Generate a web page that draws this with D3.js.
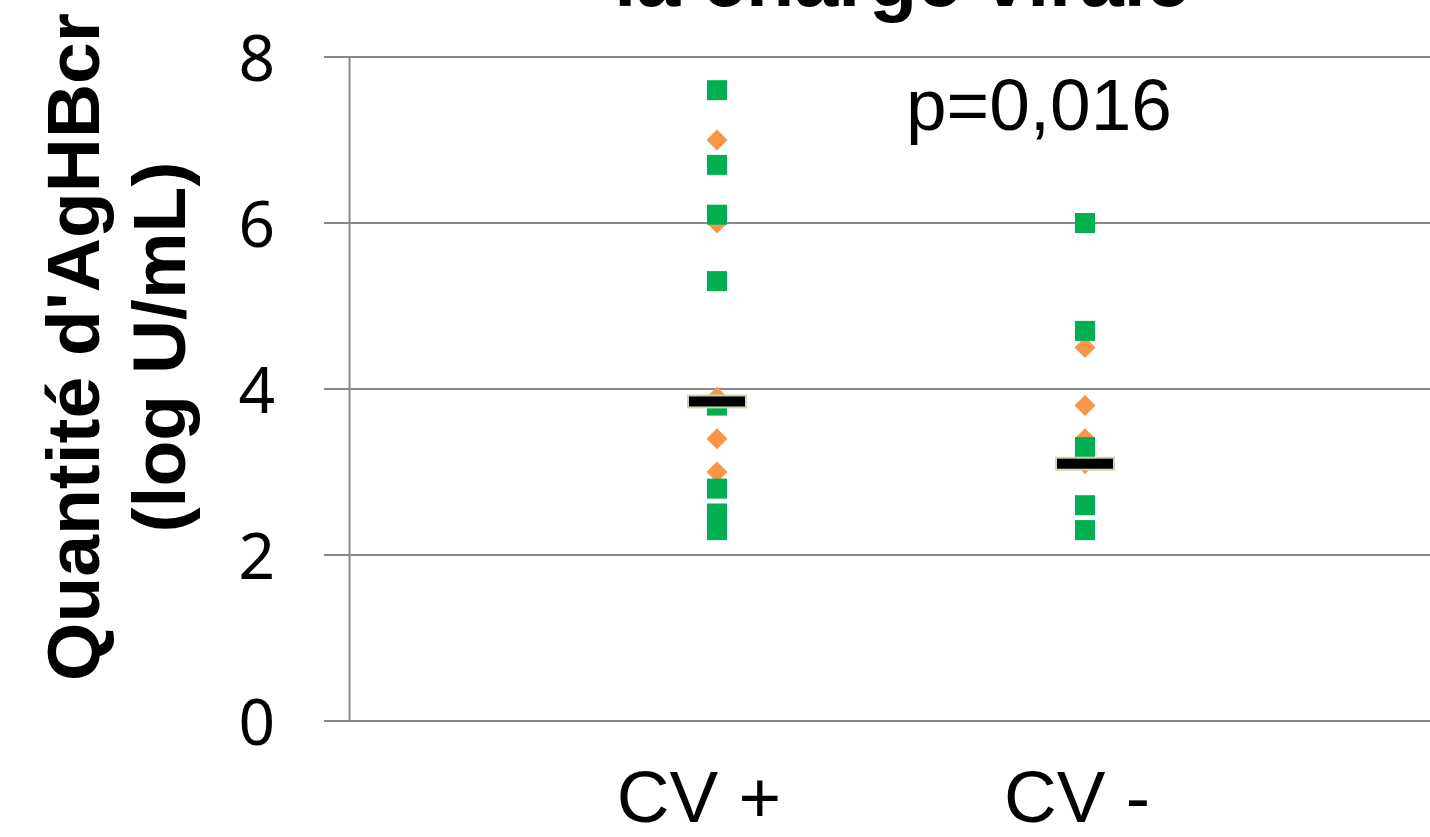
<!DOCTYPE html>
<html>
<head>
<meta charset="utf-8">
<script src="https://cdn.jsdelivr.net/npm/d3@7"></script>
<style>
	body { margin: 0; background: #fff; }
	text { font-family: "Liberation Sans", Arial, sans-serif; }
</style>
</head>
<body>
<svg id="chart" width="1430" height="837"></svg>
<script>
// categories and values (log U/mL)
var categories = ["CV + ", "CV -"];
var squaresCVpos = [7.6, 6.7, 6.1, 5.3, 3.8, 2.8, 2.5, 2.4, 2.3];
var diamondsCVpos = [7.0, 6.0, 3.9, 3.4, 3.0];
var squaresCVneg = [6.0, 4.7, 3.3, 2.6, 2.3];
var diamondsCVneg = [4.5, 3.8, 3.4, 3.1, 2.3];
var medians = [3.85, 3.1];
var yTicks = [0, 2, 4, 6, 8];
var pText = "p=0,016";

var svg = d3.select("#chart");
var gridColor = "#898989";

// x: category index 1..2, axis at 0
var x = d3.scaleLinear().domain([0, 3]).range([349, 1453]);
var y = d3.scaleLinear().domain([0, 8]).range([721, 57]);

// gridlines
svg.append("g")
	.selectAll("line").data(yTicks).join("line")
	.attr("x1", 324).attr("x2", 1430)
	.attr("y1", function (d) { return y(d); }).attr("y2", function (d) { return y(d); })
	.attr("stroke", gridColor).attr("stroke-width", 2);

// y axis line + labels
var yAxis = d3.axisLeft(y).tickValues(yTicks).tickSize(0).tickPadding(0);
var axG = svg.append("g").attr("transform", "translate(" + x(0) + ",0)").call(yAxis);
axG.select(".domain").attr("stroke", gridColor).attr("stroke-width", 2);
axG.selectAll(".tick text")
	.attr("x", -74)
	.attr("dy", "0.36em")
	.style("font-size", "64px")
	.style("font-family", "'Noto Sans', 'Open Sans', sans-serif")
	.attr("fill", "#000");

// category labels
svg.append("g")
	.selectAll("text").data(categories).join("text")
	.attr("x", function (d, i) { return x(i + 1) - 8; })
	.attr("y", 822)
	.attr("text-anchor", "middle")
	.style("white-space", "pre")
	.style("font-size", "73px")
	.text(function (d) { return d; });

// points
var sq = 20, dia = 10.5;
function drawGroup(idx, sqVals, diaVals) {
	var g = svg.append("g");
	g.selectAll("path.dia").data(diaVals).join("path")
		.attr("class", "dia")
		.attr("d", "M0," + (-dia) + "L" + dia + ",0L0," + dia + "L" + (-dia) + ",0Z")
		.attr("transform", function (d) { return "translate(" + x(idx) + "," + y(d) + ")"; })
		.attr("fill", "#F79646");
	g.selectAll("rect.sq").data(sqVals).join("rect")
		.attr("class", "sq")
		.attr("x", x(idx) - sq / 2)
		.attr("y", function (d) { return y(d) - sq / 2; })
		.attr("width", sq).attr("height", sq)
		.attr("fill", "#00B050");
}
drawGroup(1, squaresCVpos, diamondsCVpos);
drawGroup(2, squaresCVneg, diamondsCVneg);

// medians
svg.append("g")
	.selectAll("rect").data(medians).join("rect")
	.attr("x", function (d, i) { return x(i + 1) - 29; })
	.attr("y", function (d) { return y(d) - 6; })
	.attr("width", 58).attr("height", 12)
	.attr("fill", "#000")
	.attr("stroke", "#C9D9A8").attr("stroke-width", 2);

// p value
svg.append("text")
	.attr("x", 906).attr("y", 130)
	.style("font-size", "73px")
	.text(pText);

// title (cut at top, as in the source)
svg.append("text")
	.attr("x", 902).attr("y", 6)
	.attr("text-anchor", "middle")
	.style("font-size", "79px").style("font-weight", "bold")
	.text("la charge virale");

// y axis title
var yt = svg.append("text")
	.attr("transform", "translate(0,347) rotate(-90)")
	.attr("text-anchor", "middle")
	.style("font-size", "75px").style("font-weight", "bold");
yt.append("tspan").attr("x", 0).attr("y", 99).text("Quantité d'AgHBcr");
yt.append("tspan").attr("x", 0).attr("y", 185).text("(log U/mL)");
</script>
</body>
</html>
